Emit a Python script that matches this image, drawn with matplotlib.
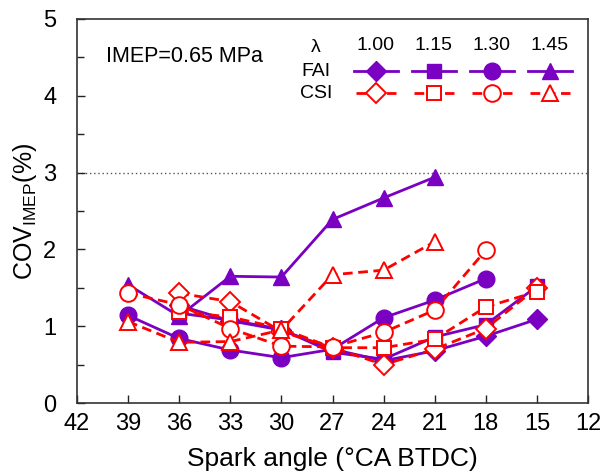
import matplotlib
matplotlib.use("Agg")
import matplotlib.pyplot as plt
from matplotlib.ticker import MultipleLocator

plt.rcParams['font.family'] = ['Liberation Sans', 'DejaVu Sans']
plt.rcParams['mathtext.fontset'] = 'custom'
plt.rcParams['mathtext.rm'] = 'Liberation Sans'

# ---- data ----
x_a = [36, 33, 30, 27, 24, 21, 18, 15]          # lambda 1.00 / 1.15
x_b = [39, 36, 33, 30, 27, 24, 21, 18]          # lambda 1.30
x_c = [39, 36, 33, 30, 27, 24, 21]              # lambda 1.45

fai_100 = [1.27, 1.07, 0.95, 0.70, 0.55, 0.68, 0.87, 1.09]
csi_100 = [1.43, 1.32, 0.93, 0.72, 0.50, 0.70, 0.97, 1.50]
fai_115 = [1.17, 1.08, 0.96, 0.66, 0.57, 0.86, 1.02, 1.52]
csi_115 = [1.19, 1.12, 0.97, 0.72, 0.72, 0.83, 1.25, 1.45]
fai_130 = [1.14, 0.84, 0.69, 0.59, 0.70, 1.11, 1.34, 1.62]
csi_130 = [1.43, 1.28, 0.97, 0.74, 0.73, 0.92, 1.21, 1.99]
fai_145 = [1.54, 1.13, 1.65, 1.64, 2.39, 2.67, 2.94]
csi_145 = [1.06, 0.79, 0.80, 0.95, 1.67, 1.73, 2.10]

lambdas = ['1.00', '1.15', '1.30', '1.45']
limit = 3.0

PURPLE = '#7A00C2'
RED = '#FF0000'

fig = plt.figure(figsize=(6.13, 4.75), dpi=100)
ax = fig.add_axes([77/613, 72/475, 511/613, 384/475])

fai_sets = [(x_a, fai_100, 'D', 10.5), (x_a, fai_115, 's', 10.5),
            (x_b, fai_130, 'o', 12), (x_c, fai_145, '^', 12)]
csi_sets = [(x_a, csi_100, 'D', 10.5), (x_a, csi_115, 's', 10.5),
            (x_b, csi_130, 'o', 12), (x_c, csi_145, '^', 12)]

for xs, ys, m, ms in fai_sets:
    ax.plot(xs, ys, color=PURPLE, lw=2.0, marker=m, ms=ms,
            mfc=PURPLE, mec=PURPLE, zorder=3)
for xs, ys, m, ms in csi_sets:
    ax.plot(xs, ys, color=RED, lw=2.0, ls=(0, (3.5, 2)), marker=m, ms=ms,
            mfc='white', mec=RED, mew=1.4, zorder=4)

ax.axhline(limit, color='#555555', lw=1.0, ls=(0, (1, 2)), zorder=1)

ax.set_xlim(42, 12)
ax.set_ylim(0, 5)
ax.xaxis.set_major_locator(MultipleLocator(3))
ax.yaxis.set_major_locator(MultipleLocator(1))
ax.yaxis.set_minor_locator(MultipleLocator(0.5))
ax.tick_params(axis='both', which='both', direction='in', top=False, right=False,
               labelsize=17, width=1.0, color='#222222')
ax.tick_params(axis='x', which='major', length=6, pad=7)
ax.tick_params(axis='y', which='major', length=6, pad=15)
ax.tick_params(axis='y', which='minor', length=5)
for s in ax.spines.values():
    s.set_linewidth(1.2)
    s.set_color('#333333')

ax.set_xlabel('Spark angle (°CA BTDC)', fontsize=19, labelpad=9)
ax.set_ylabel(r'COV$_{\mathregular{IMEP}}$(%)', fontsize=18, labelpad=3)

# ---- text & custom legend ----
def fx(px):
    return (px - 77) / 511
def fy(py):
    return (403 - py) / 384

ax.text(fx(106), fy(56), 'IMEP=0.65 MPa', transform=ax.transAxes,
        fontsize=15.5, va='center', ha='left')
ax.text(fx(316), fy(47), 'λ', transform=ax.transAxes, fontsize=14,
        va='center', ha='center')
ax.text(fx(316), fy(71), 'FAI', transform=ax.transAxes, fontsize=14,
        va='center', ha='center')
ax.text(fx(316), fy(93), 'CSI', transform=ax.transAxes, fontsize=14,
        va='center', ha='center')
cols = [376, 434, 492, 550]
for cx, lab, fs, cs in zip(cols, lambdas, fai_sets, csi_sets):
    ax.text(fx(cx), fy(46), lab, transform=ax.transAxes, fontsize=14,
            va='center', ha='center')
    ax.plot([fx(cx - 22), fx(cx + 22)], [fy(71), fy(71)], transform=ax.transAxes,
            color=PURPLE, lw=2.0, clip_on=False)
    ax.plot([fx(cx)], [fy(71)], transform=ax.transAxes, marker=fs[2], ms=fs[3],
            color=PURPLE, clip_on=False)
    ax.plot([fx(cx - 20), fx(cx + 20)], [fy(93), fy(93)], transform=ax.transAxes,
            color=RED, lw=2.0, ls=(0, (3.5, 2)), clip_on=False)
    ax.plot([fx(cx)], [fy(93)], transform=ax.transAxes, marker=cs[2], ms=cs[3],
            mfc='white', mec=RED, mew=1.4, clip_on=False)

fig.savefig('out.png', dpi=100)
